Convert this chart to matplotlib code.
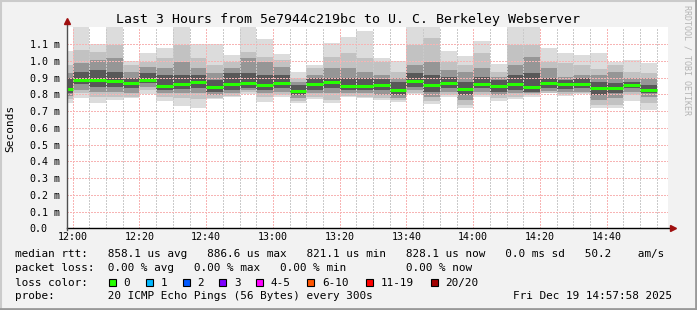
import numpy as np
import matplotlib.pyplot as plt
from matplotlib.patches import Rectangle

W, H = 697, 310
MONO = 'DejaVu Sans Mono'

# 5-minute slots (start time of each slot)
slots = ['11:55', '12:00', '12:05', '12:10', '12:15', '12:20', '12:25', '12:30', '12:35',
         '12:40', '12:45', '12:50', '12:55', '13:00', '13:05', '13:10', '13:15', '13:20',
         '13:25', '13:30', '13:35', '13:40', '13:45', '13:50', '13:55', '14:00', '14:05',
         '14:10', '14:15', '14:20', '14:25', '14:30', '14:35', '14:40', '14:45', '14:50']

# median rtt (ms)
median = [0.832, 0.886, 0.885, 0.879, 0.867, 0.887, 0.850, 0.861, 0.873, 0.842,
          0.861, 0.869, 0.856, 0.869, 0.821, 0.861, 0.875, 0.850, 0.850, 0.857,
          0.824, 0.881, 0.855, 0.869, 0.834, 0.861, 0.850, 0.861, 0.846, 0.869,
          0.859, 0.861, 0.840, 0.840, 0.857, 0.828]

# smoke: outer (min/max ping) down to the inner pings
outer_hi = [1.060, 1.210, 1.100, 1.210, 1.000, 1.045, 1.078, 1.210, 1.100, 1.100,
            1.035, 1.210, 1.130, 1.041, 0.935, 0.977, 1.106, 1.142, 1.180, 1.017,
            0.997, 1.210, 1.210, 1.058, 1.028, 1.118, 0.979, 1.210, 1.210, 1.078,
            1.046, 1.037, 1.045, 0.995, 1.005, 0.989]
outer_lo = [0.746, 0.780, 0.750, 0.766, 0.780, 0.800, 0.760, 0.732, 0.716, 0.770,
            0.786, 0.800, 0.756, 0.786, 0.746, 0.770, 0.746, 0.786, 0.776, 0.766,
            0.752, 0.800, 0.740, 0.786, 0.720, 0.786, 0.760, 0.770, 0.786, 0.806,
            0.790, 0.800, 0.720, 0.716, 0.760, 0.706]
band2_hi = [0.975, 1.064, 1.054, 1.094, 0.975, 0.995, 1.015, 1.094, 1.015, 0.975,
            0.991, 1.051, 1.025, 1.005, 0.896, 0.955, 1.025, 1.045, 1.015, 0.995,
            0.935, 1.094, 1.134, 0.995, 0.975, 1.045, 0.935, 1.094, 1.094, 0.995,
            0.985, 0.975, 0.951, 0.975, 0.935, 0.925]
band2_lo = [0.770, 0.810, 0.786, 0.786, 0.786, 0.826, 0.786, 0.776, 0.772, 0.780,
            0.790, 0.816, 0.786, 0.796, 0.760, 0.786, 0.766, 0.790, 0.786, 0.780,
            0.763, 0.806, 0.760, 0.796, 0.736, 0.796, 0.776, 0.786, 0.796, 0.810,
            0.800, 0.806, 0.736, 0.736, 0.796, 0.746]
band3_hi = [0.930, 0.985, 1.005, 1.015, 0.935, 0.965, 0.955, 0.995, 0.959, 0.925,
            0.955, 1.015, 0.995, 0.965, 0.875, 0.915, 0.955, 0.955, 0.935, 0.915,
            0.896, 0.975, 0.995, 0.945, 0.935, 0.955, 0.905, 0.975, 1.025, 0.955,
            0.905, 0.915, 0.915, 0.935, 0.896, 0.896]
band3_lo = [0.790, 0.826, 0.816, 0.816, 0.806, 0.845, 0.806, 0.806, 0.806, 0.796,
            0.806, 0.826, 0.806, 0.816, 0.776, 0.806, 0.806, 0.806, 0.806, 0.796,
            0.776, 0.826, 0.786, 0.816, 0.766, 0.816, 0.796, 0.806, 0.806, 0.820,
            0.816, 0.816, 0.766, 0.776, 0.816, 0.786]
band4_hi = [0.896, 0.935, 0.945, 0.935, 0.896, 0.925, 0.915, 0.915, 0.915, 0.885,
            0.925, 0.925, 0.915, 0.915, 0.856, 0.896, 0.896, 0.896, 0.896, 0.892,
            0.875, 0.925, 0.915, 0.905, 0.875, 0.905, 0.885, 0.915, 0.925, 0.896,
            0.885, 0.896, 0.875, 0.865, 0.875, 0.856]
band4_lo = [0.806, 0.860, 0.845, 0.845, 0.836, 0.866, 0.826, 0.830, 0.836, 0.816,
            0.826, 0.836, 0.826, 0.836, 0.796, 0.826, 0.836, 0.826, 0.826, 0.826,
            0.796, 0.845, 0.816, 0.836, 0.796, 0.836, 0.816, 0.826, 0.816, 0.836,
            0.831, 0.836, 0.796, 0.806, 0.836, 0.806]

xtick_labels = ['12:00', '12:20', '12:40', '13:00', '13:20', '13:40', '14:00', '14:20', '14:40']
ytick_vals = [0.0, 0.1, 0.2, 0.3, 0.4, 0.5, 0.6, 0.7, 0.8, 0.9, 1.0, 1.1]

loss_labels = ['0', '1', '2', '3', '4-5', '6-10', '11-19', '20/20']
loss_colors = ['#26ff00', '#00b8ff', '#0059ff', '#7e00ff', '#ff00ff', '#ff5500', '#ff0000', '#a10000']


def to_min(s):
    h, m = s.split(':')
    return (int(h) - 12) * 60 + int(m)


x0 = np.array([to_min(s) for s in slots])
xt = [to_min(s) for s in xtick_labels]

fig = plt.figure(figsize=(W / 100, H / 100), dpi=100)
fig.patch.set_facecolor('#f2f2f2')

ax = fig.add_axes([67 / W, 1 - 228.3 / H, 601 / W, 201.3 / H])
ax.set_facecolor('white')
ax.set_xlim(-1.71, 178.37)
ax.set_ylim(0, 1.2018)
for s in ax.spines.values():
    s.set_visible(False)

# smoke
bands = [(outer_lo, outer_hi, '#dcdcdc'), (band2_lo, band2_hi, '#c2c2c2'),
         (band3_lo, band3_hi, '#969696'), (band4_lo, band4_hi, '#585858')]
for lo, hi, col in bands:
    lo = np.array(lo)
    hi = np.array(hi)
    ax.bar(x0, hi - lo, bottom=lo, width=5, align='edge', color=col, linewidth=0, zorder=1)

# grid (dotted, crisp)
dots = (0, (1, 1.6))
for m in range(5, 180, 5):
    if m % 20:
        ax.axvline(m, color='#cacaca', lw=0.75, ls=dots, antialiased=False, zorder=3)
for m in xt:
    ax.axvline(m, color='#f7b4b4', lw=0.75, ls=dots, antialiased=False, zorder=3)
for v in ytick_vals[1:]:
    ax.axhline(v, color='#f7b4b4', lw=0.75, ls=dots, antialiased=False, zorder=3)

# median line
ax.hlines(median, x0, x0 + 5, color='#26ff00', lw=2.2, zorder=5)

# axes with arrows
ax.plot([0, 1.007], [0, 0], transform=ax.transAxes, color='black', lw=1, clip_on=False, zorder=6)
ax.plot([0, 0], [-0.01, 1.03], transform=ax.transAxes, color='#505050', lw=1, clip_on=False, zorder=6)
ax.plot(1.009, 0, marker='>', color='#a01010', ms=4, transform=ax.transAxes, clip_on=False, zorder=7)
ax.plot(0, 1.03, marker='^', color='#a01010', ms=4, transform=ax.transAxes, clip_on=False, zorder=7)

ax.set_xticks(xt)
ax.set_xticklabels(xtick_labels, family=MONO, fontsize=7.2)
ax.set_yticks(ytick_vals)
ax.set_yticklabels(['0.0'] + ['%.1f m' % v for v in ytick_vals[1:]], family=MONO, fontsize=7.2)
ax.tick_params(axis='x', length=0, pad=2.6)
ax.tick_params(axis='y', length=0, pad=27)
for lab in ax.get_yticklabels():
    lab.set_horizontalalignment('left')

# texts
fig.text(348.5 / W, 1 - 19 / H, 'Last 3 Hours from 5e7944c219bc to U. C. Berkeley Webserver',
         ha='center', va='center', family=MONO, fontsize=9.55)
fig.text(10 / W, 1 - 128 / H, 'Seconds', rotation=90, ha='center', va='center',
         family=MONO, fontsize=8)
fig.text(687 / W, 1 - 60 / H, 'RRDTOOL / TOBI OETIKER', rotation=270, ha='center', va='center',
         family=MONO, fontsize=6, color='#b4b4b4')

lx = 14.6
rows = [
    (254.3, 'median rtt:   858.1 us avg   886.6 us max   821.1 us min   828.1 us now   0.0 ms sd   50.2    am/s'),
    (268.3, 'packet loss:  0.00 % avg   0.00 % max   0.00 % min         0.00 % now'),
    (282.7, 'loss color:'),
    (296.0, 'probe:        20 ICMP Echo Pings (56 Bytes) every 300s'),
]
for y, t in rows:
    fig.text(lx / W, 1 - y / H, t, ha='left', va='center', family=MONO, fontsize=7.95)
fig.text(513 / W, 1 - 296 / H, 'Fri Dec 19 14:57:58 2025', ha='left', va='center',
         family=MONO, fontsize=7.95)

sq_x = [108.7, 145.7, 182.7, 219.3, 255.7, 307.3, 365.7, 430.7]
for sx, lab, col in zip(sq_x, loss_labels, loss_colors):
    fig.add_artist(Rectangle((sx / W, 1 - 286.2 / H), 7 / W, 7 / H, transform=fig.transFigure,
                             facecolor=col, edgecolor='black', lw=0.8))
    fig.text((sx + 14.6) / W, 1 - 282.7 / H, lab, ha='left', va='center', family=MONO, fontsize=7.95)

# frame
fig.add_artist(plt.Line2D([0, 1], [1 - 1 / H] * 2, transform=fig.transFigure, color='#cbcbcb', lw=1.5))
fig.add_artist(plt.Line2D([1 / W] * 2, [0, 1], transform=fig.transFigure, color='#cbcbcb', lw=1.5))
fig.add_artist(plt.Line2D([0, 1], [1.5 / H] * 2, transform=fig.transFigure, color='#999999', lw=2))
fig.add_artist(plt.Line2D([1 - 1.5 / W] * 2, [0, 1], transform=fig.transFigure, color='#999999', lw=2))

fig.savefig('out.png', dpi=100, facecolor=fig.get_facecolor())
